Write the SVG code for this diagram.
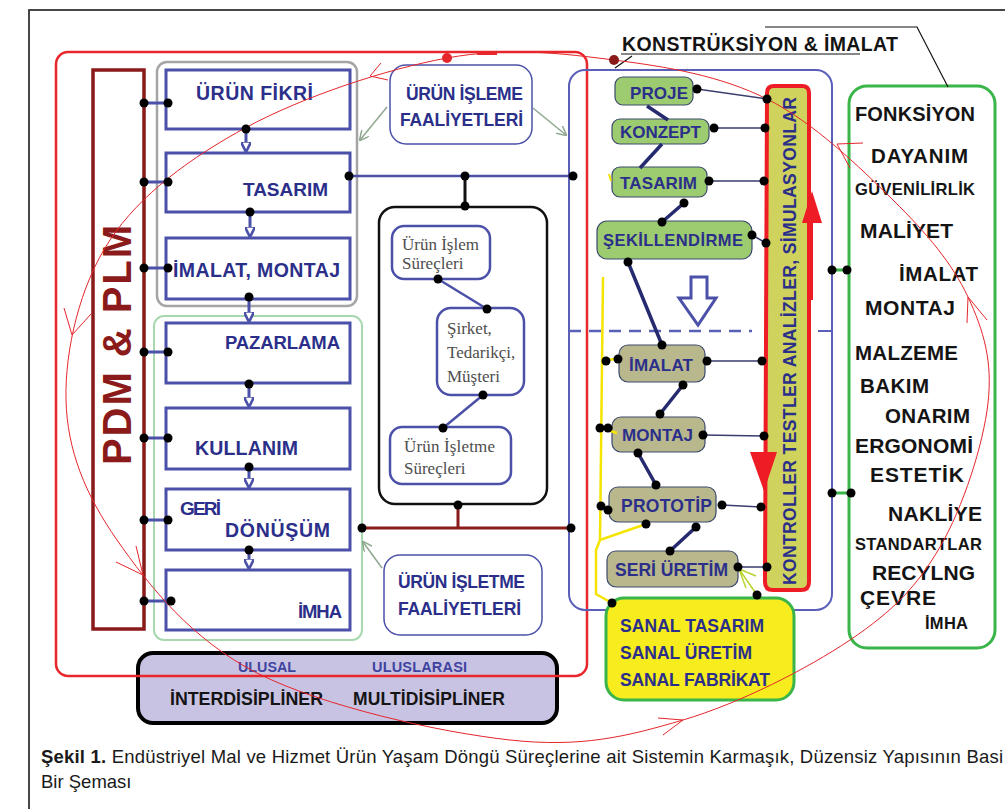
<svg xmlns="http://www.w3.org/2000/svg" width="1005" height="809" viewBox="0 0 1005 809">
<style>
.t{font-family:"Liberation Sans",Arial,sans-serif;font-weight:bold;fill:#2b2f8a}
.k{font-family:"Liberation Sans",Arial,sans-serif;font-weight:bold;fill:#141414}
.s{font-family:"Liberation Serif","Times New Roman",serif;fill:#4d4d4d;font-size:17px}
.bx{fill:#fff;stroke:#4b51a8;stroke-width:3}
.sb{fill:#fff;stroke:#4b51a8;stroke-width:2.5}
.gn{fill:#9ccb70;stroke:#3c4a6e;stroke-width:1.2}
.kh{fill:#b9b78c;stroke:#3c4a6e;stroke-width:1.2}
.bl{stroke:#4b51a8;stroke-width:3;fill:none}
.nv{stroke:#262a6e;stroke-width:3.5;fill:none}
.sl{stroke:#3a3d6e;stroke-width:1.5;fill:none}
.yl{stroke:#f5e400;stroke-width:2.5;fill:none}
.rc{stroke:#e5262b;stroke-width:1;fill:none}
.gg{stroke:#8fa88f;stroke-width:1.5;fill:none}
.d{fill:#000}
</style>
<defs>
<marker id="ba" viewBox="0 0 10 10" refX="9" refY="5" markerWidth="3.5" markerHeight="3.5" orient="auto"><path d="M0,0 L10,5 L0,10 z" fill="#fff" stroke="#4b51a8" stroke-width="2.5"/></marker>
<marker id="ga" viewBox="0 0 10 10" refX="9" refY="5" markerWidth="10" markerHeight="10" orient="auto" markerUnits="userSpaceOnUse"><path d="M0,0 L10,5 L0,10" fill="none" stroke="#8fa88f" stroke-width="1.5"/></marker>
</defs>
<rect width="1005" height="809" fill="#fff"/>
<rect x="29" y="10" width="1000" height="830" fill="none" stroke="#333" stroke-width="1.8"/>

<g id="lavender">
<rect x="138" y="653" width="419" height="70" rx="15" fill="#c9c3e3" stroke="#000" stroke-width="4"/>
<text class="t" x="238" y="672" font-size="14.3" textLength="58" style="fill:#3f44a0">ULUSAL</text>
<text class="t" x="372" y="672" font-size="14.5" textLength="95" style="fill:#3f44a0">ULUSLARASI</text>
<text class="k" x="170" y="705" font-size="17.8" textLength="153">İNTERDİSİPLİNER</text>
<text class="k" x="353" y="705" font-size="17.5" textLength="152">MULTİDİSİPLİNER</text>
</g>

<g id="outer-red">
<rect x="56" y="52" width="531" height="624" rx="12" fill="none" stroke="#e8262b" stroke-width="2.5"/>
<line x1="477" y1="53" x2="497" y2="53" stroke="#e8262b" stroke-width="4"/>
</g>

<g id="pdm-plm">
<rect x="93" y="70" width="51" height="559" fill="none" stroke="#8b1a1a" stroke-width="3.5"/>
<text class="k" transform="translate(131,465) rotate(-90)" font-size="40" textLength="240" style="fill:#8b1a1a">PDM &amp; PLM</text>
</g>

<g id="group-gray"><rect x="157" y="62" width="200" height="244" rx="10" fill="none" stroke="#a5a5a5" stroke-width="2.5"/></g>
<g id="group-green"><rect x="154" y="316" width="208" height="324" rx="10" fill="none" stroke="#a8d8b0" stroke-width="2"/></g>

<g id="urun-fikri"><rect class="bx" x="166" y="70" width="184" height="59"/><text class="t" x="196" y="100" font-size="19.5" textLength="117">ÜRÜN FİKRİ</text></g>
<g id="tasarim-l"><rect class="bx" x="166" y="153" width="184" height="59"/><text class="t" x="243" y="196" font-size="19" textLength="85">TASARIM</text></g>
<g id="imalat-montaj"><rect class="bx" x="166" y="238" width="184" height="61"/><text class="t" x="173" y="277" font-size="19.5" textLength="167">İMALAT, MONTAJ</text></g>
<g id="pazarlama"><rect class="bx" x="166" y="323" width="184" height="60"/><text class="t" x="225" y="349" font-size="18.5" textLength="115">PAZARLAMA</text></g>
<g id="kullanim"><rect class="bx" x="166" y="408" width="184" height="61"/><text class="t" x="195" y="455" font-size="19.5" textLength="103">KULLANIM</text></g>
<g id="geri-donusum"><rect class="bx" x="166" y="489" width="184" height="61"/><text class="t" x="180" y="515" font-size="19" textLength="41">GERİ</text><text class="t" x="225" y="537" font-size="19.5" textLength="105">DÖNÜŞÜM</text></g>
<g id="imha-l"><rect class="bx" x="166" y="570" width="184" height="60"/><text class="t" x="298" y="618" font-size="18.5" textLength="44">İMHA</text></g>

<g id="urun-isleme"><rect x="390" y="65" width="142" height="79" rx="16" fill="#fff" stroke="#4b51a8" stroke-width="1.5"/><text class="t" x="406" y="100" font-size="17.5" textLength="117">ÜRÜN İŞLEME</text><text class="t" x="400" y="126" font-size="17.5" textLength="123">FAALİYETLERİ</text></g>
<g id="urun-isletme"><rect x="384" y="555" width="158" height="80" rx="16" fill="#fff" stroke="#4b51a8" stroke-width="1.5"/><text class="t" x="398" y="588" font-size="17.5" textLength="127">ÜRÜN İŞLETME</text><text class="t" x="398" y="615" font-size="17.5" textLength="123">FAALİYETLERİ</text></g>

<g id="center-frame"><rect x="379" y="207" width="168" height="297" rx="16" fill="none" stroke="#111" stroke-width="2.5"/></g>
<g id="islem-surecleri"><rect class="sb" x="392" y="226" width="98" height="53" rx="12"/><text class="s" x="402" y="250" textLength="77">Ürün İşlem</text><text class="s" x="402" y="269">Süreçleri</text></g>
<g id="sirket"><rect class="sb" x="437" y="308" width="87" height="87" rx="14"/><text class="s" x="447" y="334">Şirket,</text><text class="s" x="447" y="358">Tedarikçi,</text><text class="s" x="447" y="382">Müşteri</text></g>
<g id="isletme-surecleri"><rect class="sb" x="390" y="427" width="121" height="57" rx="12"/><text class="s" x="404" y="452" textLength="91">Ürün İşletme</text><text class="s" x="404" y="474">Süreçleri</text></g>

<g id="right-frame"><rect x="569" y="70" width="263" height="540" rx="16" fill="none" stroke="#5a5fb8" stroke-width="2"/>
<line x1="569" y1="331" x2="752" y2="331" stroke="#5a5fb8" stroke-width="2.5" stroke-dasharray="12,8"/>
<line x1="818" y1="331" x2="832" y2="331" stroke="#5a5fb8" stroke-width="2"/>
<path d="M691,277 H707 V298 H716 L698,325 L679,298 H691 Z" fill="#fff" stroke="#4b51a8" stroke-width="3"/>
</g>

<g id="bar">
<path d="M767,93 Q767,86 774,86 L802,86 Q809,86 809,93 L809,582 Q809,590 801,590 L773,590 Q765,590 765,582 Z" fill="#cfd25c" stroke="#ee1c24" stroke-width="4"/>
<text class="t" transform="translate(796,585) rotate(-90)" font-size="17.5" textLength="488">KONTROLLER  TESTLER  ANALİZLER, SİMULASYONLAR</text>
<polygon points="812,191 822,223 802,223" fill="#ee1c24"/>
<line x1="811" y1="222" x2="811" y2="300" stroke="#ee1c24" stroke-width="4"/>
<polygon points="750,452 777,452 764,491" fill="#ee1c24"/>
</g>

<g id="proje"><rect class="gn" x="615" y="77" width="78" height="28" rx="8"/><text class="t" x="630" y="99" font-size="17" textLength="58">PROJE</text></g>
<g id="konzept"><rect class="gn" x="612" y="119" width="97" height="25" rx="8"/><text class="t" x="620" y="138" font-size="17" textLength="81">KONZEPT</text></g>
<g id="tasarim-r"><rect class="gn" x="612" y="167" width="95" height="30" rx="8"/><text class="t" x="620" y="189" font-size="17" textLength="77">TASARIM</text></g>
<g id="sekillendirme"><rect class="gn" x="597" y="221" width="155" height="38" rx="10"/><text class="t" x="603" y="246" font-size="16.5" textLength="140">ŞEKİLLENDİRME</text></g>
<g id="imalat-r"><rect class="kh" x="619" y="345" width="86" height="37" rx="9"/><text class="t" x="629" y="371" font-size="17" textLength="64">İMALAT</text></g>
<g id="montaj-r"><rect class="kh" x="612" y="417" width="93" height="35" rx="9"/><text class="t" x="622" y="441" font-size="17" textLength="71">MONTAJ</text></g>
<g id="prototip"><rect class="kh" x="609" y="487" width="107" height="35" rx="9"/><text class="t" x="621" y="512" font-size="17.5" textLength="91">PROTOTİP</text></g>
<g id="seri-uretim"><rect class="kh" x="607" y="551" width="131" height="36" rx="9"/><text class="t" x="615" y="576" font-size="17.5" textLength="113">SERİ ÜRETİM</text></g>

<g id="sanal"><rect x="606" y="598" width="188" height="102" rx="18" fill="#f7ec1e" stroke="#3ab54a" stroke-width="3"/>
<text class="t" x="620" y="632" font-size="17.5" textLength="144">SANAL TASARIM</text>
<text class="t" x="620" y="659" font-size="17.5" textLength="132">SANAL ÜRETİM</text>
<text class="t" x="620" y="686" font-size="17.5" textLength="150">SANAL FABRİKAT</text></g>

<g id="criteria"><rect x="849" y="86" width="146" height="562" rx="18" fill="#fff" stroke="#3ab54a" stroke-width="3"/>
<text class="k" x="855" y="121" font-size="20" textLength="120">FONKSİYON</text>
<text class="k" x="871" y="163" font-size="20.5" textLength="97">DAYANIM</text>
<text class="k" x="855" y="195" font-size="16.5" textLength="120">GÜVENİLİRLİK</text>
<text class="k" x="860" y="238" font-size="21" textLength="93">MALİYET</text>
<text class="k" x="899" y="281" font-size="20.5" textLength="79">İMALAT</text>
<text class="k" x="865" y="315" font-size="21" textLength="90">MONTAJ</text>
<text class="k" x="855" y="360" font-size="20.5" textLength="103">MALZEME</text>
<text class="k" x="860" y="393" font-size="20.5" textLength="69">BAKIM</text>
<text class="k" x="885" y="423" font-size="20.5" textLength="85">ONARIM</text>
<text class="k" x="855" y="453" font-size="21" textLength="118">ERGONOMİ</text>
<text class="k" x="870" y="482" font-size="21" textLength="94">ESTETİK</text>
<text class="k" x="888" y="521" font-size="21" textLength="94">NAKLİYE</text>
<text class="k" x="855" y="550" font-size="16.5" textLength="127">STANDARTLAR</text>
<text class="k" x="872" y="580" font-size="21" textLength="103">RECYLNG</text>
<text class="k" x="860" y="605" font-size="21" textLength="76">ÇEVRE</text>
<text class="k" x="925" y="629" font-size="16.5" textLength="43">İMHA</text>
</g>

<g id="title"><text class="k" x="622" y="51" font-size="19.5" textLength="276">KONSTRÜKSİYON &amp; İMALAT</text>
<line x1="621" y1="54" x2="860" y2="54" stroke="#111" stroke-width="1.2"/>
<polyline points="765,27 917,27 948,87" fill="none" stroke="#111" stroke-width="1.2"/>
<line x1="615" y1="68" x2="632" y2="56" stroke="#111" stroke-width="1.2"/>
</g>

<g id="connectors">
<path class="bl" d="M144,103H168M144,182H168M144,268H168M144,352H168M144,438H168M144,520H168M144,601H168"/>
<line class="bl" x1="246" y1="129" x2="246" y2="151" marker-end="url(#ba)"/>
<line class="bl" x1="250" y1="212" x2="250" y2="236" marker-end="url(#ba)"/>
<line class="bl" x1="249" y1="297" x2="249" y2="321" marker-end="url(#ba)"/>
<line class="bl" x1="249" y1="384" x2="249" y2="406" marker-end="url(#ba)"/>
<line class="bl" x1="249" y1="467" x2="249" y2="487" marker-end="url(#ba)"/>
<line class="bl" x1="249" y1="550" x2="249" y2="568" marker-end="url(#ba)"/>
<line x1="349" y1="176" x2="573" y2="176" stroke="#4b51a8" stroke-width="2.5"/>
<line x1="465" y1="176" x2="465" y2="206" stroke="#111" stroke-width="3"/>
<line x1="438" y1="279" x2="487" y2="309" stroke="#4b51a8" stroke-width="2.5"/>
<line x1="483" y1="395" x2="443" y2="428" stroke="#4b51a8" stroke-width="2.5"/>
<line x1="458" y1="505" x2="458" y2="528" stroke="#8b1a1a" stroke-width="3"/>
<line x1="362" y1="528" x2="571" y2="528" stroke="#8b1a1a" stroke-width="3"/>
<line class="gg" x1="387" y1="107" x2="360" y2="140" marker-end="url(#ga)"/>
<line class="gg" x1="533" y1="108" x2="566" y2="135" marker-end="url(#ga)"/>
<line class="gg" x1="382" y1="568" x2="363" y2="542" marker-end="url(#ga)"/>
<path class="nv" d="M647,106L668,120M662,144L640,168M684,203L662,222M628,262L662,345M683,385L660,414M638,453L656,485M696,527L670,551"/>
<path class="sl" d="M697,89L767,99M714,128L765,128M709,181L764,181M752,235L766,243M707,361L762,361M703,435L764,436M722,505L761,507M738,567L767,567"/>
<path class="yl" d="M603,277L600,540L646,524M600,540L596,550L596,594L612,603M604,360L618,359M601,428L617,433M601,507L608,509"/>
<line x1="609" y1="174" x2="611" y2="181" stroke="#f5e400" stroke-width="2"/>
<path d="M757,595L739,569M739,569L756,576M739,569L746,588" stroke="#b8d430" stroke-width="1.5" fill="none"/>
<path d="M832,270H847M832,493H851" stroke="#3ab54a" stroke-width="3"/>
<path class="rc" d="M447,58 C385.8,69.2 303.2,96.7 247,127 C190.8,157.3 140.2,194.5 110,240 C79.8,285.5 64.8,350 66,400 C67.2,450 85.2,494.5 117,540 C148.8,585.5 191.5,639.7 257,673 C322.5,706.3 439,732.2 510,740 C581,747.8 626.3,736.7 683,720 C739.7,703.3 807.2,668.8 850,640 C892.8,611.2 917,586.5 940,547 C963,507.5 983.3,444.7 988,403 C992.7,361.3 983.8,330.8 968,297 C952.2,263.2 926.5,233 893,200 C859.5,167 813.5,122.3 767,99 C720.5,75.7 667.3,66.8 614,60 C560.7,53.2 508.2,46.8 447,58"/>
<path class="rc" d="M388,80L370,76L381,63M91,314L72,335L64,308M136,546L143,575L116,562M658,718L683,720L663,735M967,323L968,297L987,320M863,143L837,144L850,168"/>
<g class="d">
<circle cx="144" cy="103" r="4.5"/><circle cx="168" cy="103" r="4.5"/>
<circle cx="144" cy="182" r="4.5"/><circle cx="168" cy="182" r="4.5"/>
<circle cx="144" cy="268" r="4.5"/><circle cx="168" cy="268" r="4.5"/>
<circle cx="144" cy="352" r="4.5"/><circle cx="168" cy="352" r="4.5"/>
<circle cx="144" cy="438" r="4.5"/><circle cx="168" cy="438" r="4.5"/>
<circle cx="144" cy="520" r="4.5"/><circle cx="168" cy="520" r="4.5"/>
<circle cx="144" cy="601" r="4.5"/><circle cx="171" cy="601" r="4.5"/>
<circle cx="246" cy="129" r="4.5"/><circle cx="250" cy="212" r="4.5"/><circle cx="249" cy="297" r="4.5"/>
<circle cx="249" cy="384" r="4.5"/><circle cx="249" cy="467" r="4.5"/><circle cx="249" cy="550" r="4.5"/>
<circle cx="349" cy="176" r="4.5"/><circle cx="465" cy="176" r="4.5"/><circle cx="573" cy="176" r="4.5"/><circle cx="465" cy="206" r="4.5"/>
<circle cx="438" cy="279" r="4.5"/><circle cx="487" cy="309" r="4.5"/><circle cx="483" cy="395" r="4.5"/><circle cx="443" cy="428" r="4.5"/>
<circle cx="458" cy="505" r="4.5"/><circle cx="362" cy="528" r="4.5"/><circle cx="571" cy="528" r="4.5"/>
<circle cx="697" cy="89" r="4.5"/><circle cx="767" cy="99" r="4.5"/><circle cx="714" cy="128" r="4.5"/><circle cx="765" cy="128" r="4.5"/>
<circle cx="709" cy="181" r="4.5"/><circle cx="764" cy="181" r="4.5"/><circle cx="752" cy="235" r="4.5"/><circle cx="766" cy="243" r="4.5"/>
<circle cx="684" cy="203" r="4.5"/><circle cx="662" cy="222" r="4.5"/><circle cx="628" cy="262" r="4.5"/><circle cx="662" cy="345" r="4.5"/>
<circle cx="683" cy="385" r="4.5"/><circle cx="660" cy="414" r="4.5"/><circle cx="638" cy="453" r="4.5"/><circle cx="656" cy="485" r="4.5"/>
<circle cx="696" cy="527" r="4.5"/><circle cx="670" cy="551" r="4.5"/><circle cx="646" cy="524" r="4.5"/>
<circle cx="707" cy="361" r="4.5"/><circle cx="762" cy="361" r="4.5"/><circle cx="703" cy="435" r="4.5"/><circle cx="764" cy="436" r="4.5"/>
<circle cx="722" cy="505" r="4.5"/><circle cx="761" cy="507" r="4.5"/><circle cx="738" cy="567" r="4.5"/><circle cx="767" cy="567" r="4.5"/>
<circle cx="606" cy="361" r="4.5"/><circle cx="618" cy="359" r="4.5"/><circle cx="600" cy="428" r="4.5"/><circle cx="608" cy="428" r="4.5"/>
<circle cx="601" cy="506" r="4.5"/><circle cx="608" cy="510" r="4.5"/>
<circle cx="757" cy="595" r="4.5"/><circle cx="612" cy="603" r="4.5"/>
<circle cx="832" cy="270" r="4.5"/><circle cx="847" cy="270" r="4.5"/><circle cx="832" cy="493" r="4.5"/><circle cx="851" cy="493" r="4.5"/>
</g>
<circle cx="447" cy="58" r="5" fill="#e5262b"/>
<circle cx="614" cy="60" r="5" fill="#8b1a1a"/>
</g>

<g id="caption">
<text x="41" y="763" font-family="'Liberation Sans',Arial,sans-serif" font-size="18.5" fill="#1a1a1a" textLength="962"><tspan font-weight="bold">Şekil 1.</tspan> Endüstriyel Mal ve Hizmet Ürün Yaşam Döngü Süreçlerine ait Sistemin Karmaşık, Düzensiz Yapısının Basi</text>
<text x="41" y="788" font-family="'Liberation Sans',Arial,sans-serif" font-size="18.5" fill="#1a1a1a">Bir Şeması</text>
</g>
</svg>
